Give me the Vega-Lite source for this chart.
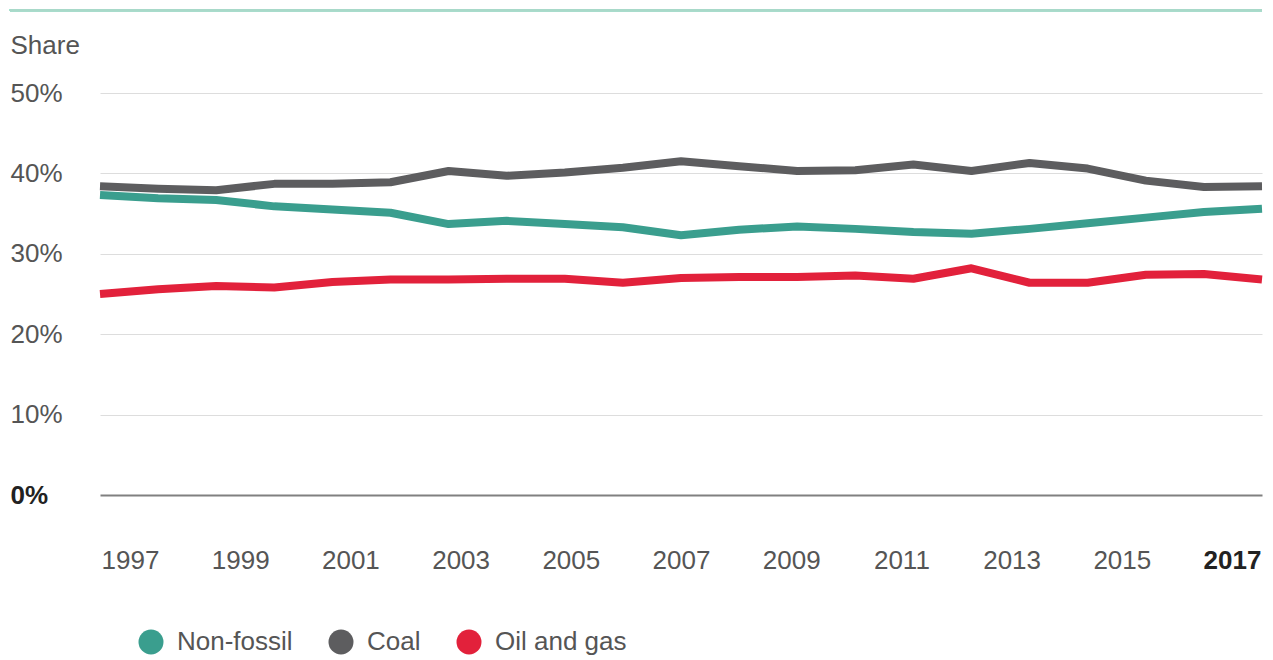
{
  "$schema": "https://vega.github.io/schema/vega-lite/v6.json",
  "width": 1162,
  "height": 402,
  "autosize": "none",
  "padding": {"left": 100, "top": 93, "right": 11, "bottom": 165},
  "background": "#ffffff",
  "config": {
    "view": {"stroke": null},
    "font": "Liberation Sans"
  },
  "data": {
    "values": [
      {"year": 1997, "source": "Non-fossil", "share": 37.3},
      {"year": 1998, "source": "Non-fossil", "share": 36.9},
      {"year": 1999, "source": "Non-fossil", "share": 36.7},
      {"year": 2000, "source": "Non-fossil", "share": 35.9},
      {"year": 2001, "source": "Non-fossil", "share": 35.5},
      {"year": 2002, "source": "Non-fossil", "share": 35.1},
      {"year": 2003, "source": "Non-fossil", "share": 33.7},
      {"year": 2004, "source": "Non-fossil", "share": 34.1},
      {"year": 2005, "source": "Non-fossil", "share": 33.7},
      {"year": 2006, "source": "Non-fossil", "share": 33.3},
      {"year": 2007, "source": "Non-fossil", "share": 32.3},
      {"year": 2008, "source": "Non-fossil", "share": 33.0},
      {"year": 2009, "source": "Non-fossil", "share": 33.4},
      {"year": 2010, "source": "Non-fossil", "share": 33.1},
      {"year": 2011, "source": "Non-fossil", "share": 32.7},
      {"year": 2012, "source": "Non-fossil", "share": 32.5},
      {"year": 2013, "source": "Non-fossil", "share": 33.1},
      {"year": 2014, "source": "Non-fossil", "share": 33.8},
      {"year": 2015, "source": "Non-fossil", "share": 34.5},
      {"year": 2016, "source": "Non-fossil", "share": 35.2},
      {"year": 2017, "source": "Non-fossil", "share": 35.6},
      {"year": 1997, "source": "Coal", "share": 38.4},
      {"year": 1998, "source": "Coal", "share": 38.1},
      {"year": 1999, "source": "Coal", "share": 37.9},
      {"year": 2000, "source": "Coal", "share": 38.7},
      {"year": 2001, "source": "Coal", "share": 38.7},
      {"year": 2002, "source": "Coal", "share": 38.9},
      {"year": 2003, "source": "Coal", "share": 40.3},
      {"year": 2004, "source": "Coal", "share": 39.7},
      {"year": 2005, "source": "Coal", "share": 40.1},
      {"year": 2006, "source": "Coal", "share": 40.7},
      {"year": 2007, "source": "Coal", "share": 41.5},
      {"year": 2008, "source": "Coal", "share": 40.9},
      {"year": 2009, "source": "Coal", "share": 40.3},
      {"year": 2010, "source": "Coal", "share": 40.4},
      {"year": 2011, "source": "Coal", "share": 41.1},
      {"year": 2012, "source": "Coal", "share": 40.3},
      {"year": 2013, "source": "Coal", "share": 41.3},
      {"year": 2014, "source": "Coal", "share": 40.6},
      {"year": 2015, "source": "Coal", "share": 39.1},
      {"year": 2016, "source": "Coal", "share": 38.3},
      {"year": 2017, "source": "Coal", "share": 38.4},
      {"year": 1997, "source": "Oil and gas", "share": 25.0},
      {"year": 1998, "source": "Oil and gas", "share": 25.6},
      {"year": 1999, "source": "Oil and gas", "share": 26.0},
      {"year": 2000, "source": "Oil and gas", "share": 25.8},
      {"year": 2001, "source": "Oil and gas", "share": 26.5},
      {"year": 2002, "source": "Oil and gas", "share": 26.8},
      {"year": 2003, "source": "Oil and gas", "share": 26.8},
      {"year": 2004, "source": "Oil and gas", "share": 26.9},
      {"year": 2005, "source": "Oil and gas", "share": 26.9},
      {"year": 2006, "source": "Oil and gas", "share": 26.4},
      {"year": 2007, "source": "Oil and gas", "share": 27.0},
      {"year": 2008, "source": "Oil and gas", "share": 27.1},
      {"year": 2009, "source": "Oil and gas", "share": 27.1},
      {"year": 2010, "source": "Oil and gas", "share": 27.3},
      {"year": 2011, "source": "Oil and gas", "share": 26.9},
      {"year": 2012, "source": "Oil and gas", "share": 28.2},
      {"year": 2013, "source": "Oil and gas", "share": 26.4},
      {"year": 2014, "source": "Oil and gas", "share": 26.4},
      {"year": 2015, "source": "Oil and gas", "share": 27.4},
      {"year": 2016, "source": "Oil and gas", "share": 27.5},
      {"year": 2017, "source": "Oil and gas", "share": 26.8}
    ]
  },
  "layer": [
    {
      "mark": {"type": "rule", "color": "#a9d9c9", "strokeWidth": 2},
      "encoding": {
        "x": {"datum": 1995.45, "type": "quantitative", "scale": {"domain": [1997, 2017], "nice": false, "zero": false}},
        "x2": {"datum": 2017},
        "y": {"datum": 60.3, "type": "quantitative", "scale": {"domain": [0, 50], "nice": false}}
      }
    },
    {
      "mark": {"type": "line", "strokeWidth": 8, "strokeJoin": "round"},
      "encoding": {
        "x": {
          "field": "year",
          "type": "quantitative",
          "scale": {"domain": [1997, 2017], "nice": false, "zero": false},
          "axis": {
            "title": null,
            "values": [1997, 1999, 2001, 2003, 2005, 2007, 2009, 2011, 2013, 2015, 2017],
            "format": "d",
            "grid": false,
            "domain": false,
            "ticks": false,
            "tickSize": 0,
            "labelFlush": false,
            "labelPadding": 52,
            "labelFontSize": 26,
            "labelColor": {"condition": {"test": "datum.value == 2017", "value": "#222222"}, "value": "#555555"},
            "labelFontWeight": {"condition": {"test": "datum.value == 2017", "value": "bold"}, "value": "normal"},
            "labelOffset": {"expr": "(2007 - datum.value) * 3"}
          }
        },
        "y": {
          "field": "share",
          "type": "quantitative",
          "scale": {"domain": [0, 50], "nice": false},
          "axis": {
            "title": "Share",
            "titleAngle": 0,
            "titleAlign": "left",
            "titleBaseline": "middle",
            "titleX": -90,
            "titleY": -48,
            "titleFontSize": 26,
            "titleFontWeight": "normal",
            "titleColor": "#555555",
            "values": [0, 10, 20, 30, 40, 50],
            "labelExpr": "datum.value + '%'",
            "domain": false,
            "ticks": false,
            "tickSize": 0,
            "labelAlign": "left",
            "labelPadding": 90,
            "labelFontSize": 26,
            "labelColor": {"condition": {"test": "datum.value == 0", "value": "#222222"}, "value": "#555555"},
            "labelFontWeight": {"condition": {"test": "datum.value == 0", "value": "bold"}, "value": "normal"},
            "grid": true,
            "gridColor": {"condition": {"test": "datum.value == 0", "value": "#808080"}, "value": "#dddddd"},
            "gridWidth": {"condition": {"test": "datum.value == 0", "value": 2}, "value": 1}
          }
        },
        "color": {
          "field": "source",
          "type": "nominal",
          "sort": ["Non-fossil", "Coal", "Oil and gas"],
          "scale": {"domain": ["Non-fossil", "Coal", "Oil and gas"], "range": ["#3a9e8e", "#5d5d5f", "#e2213b"]},
          "legend": {
            "title": null,
            "orient": "none",
            "direction": "horizontal",
            "legendX": 38,
            "legendY": 536,
            "symbolType": "circle",
            "symbolSize": 625,
            "labelFontSize": 26,
            "labelColor": "#555555",
            "labelOffset": 13,
            "columnPadding": 35,
            "labelLimit": 400,
            "encode": {
              "symbols": {
                "update": {
                  "fill": {"scale": "color", "field": "value"},
                  "strokeWidth": {"value": 0},
                  "opacity": {"value": 1}
                }
              }
            }
          }
        }
      }
    }
  ]
}
